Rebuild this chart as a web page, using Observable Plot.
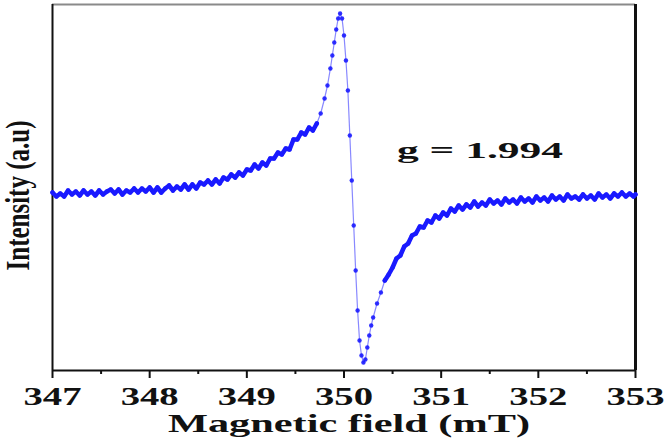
<!DOCTYPE html>
<html><head><meta charset="utf-8">
<script src="https://cdn.jsdelivr.net/npm/d3@7"></script>
<script src="https://cdn.jsdelivr.net/npm/@observablehq/plot@0.6"></script>
<style>body{margin:0;background:#fff}</style>
</head><body><div id="chart"></div>
<script>
const fieldLeft = [347.00,347.04,347.08,347.12,347.16,347.20,347.24,347.28,347.32,347.36,347.40,347.44,347.48,347.52,347.56,347.60,347.64,347.68,347.72,347.76,347.80,347.84,347.88,347.92,347.96,348.00,348.04,348.08,348.12,348.16,348.20,348.24,348.28,348.32,348.36,348.40,348.44,348.48,348.52,348.56,348.60,348.64,348.68,348.72,348.76,348.80,348.84,348.88,348.92,348.96,349.00,349.04,349.08,349.12,349.16,349.20,349.24,349.28,349.32,349.36,349.40,349.44,349.48,349.52,349.56,349.60,349.64,349.68,349.72];
const intensityLeft = [3,-1,2,-1,5,1,4,0,5,1,4,0,5,1,4,6,2,6,1,5,3,7,3,7,4,8,3,8,3,7,10,5,9,6,11,6,11,7,13,11,15,11,16,12,18,16,21,18,23,20,26,25,31,27,33,30,37,37,43,41,47,46,56,56,63,61,68,65,72];
const fieldPeak = [349.76,349.80,349.83,349.86,349.88,349.90,349.92,349.94,349.96,349.98,350.00,350.02,350.04,350.06,350.08,350.10,350.12,350.14,350.16,350.18,350.20,350.22,350.24,350.26,350.28,350.30,350.34,350.38];
const intensityPeak = [82,97,110,127,140,153,166,177,182,177,160,135,105,60,15,-30,-75,-115,-145,-160,-167,-164,-152,-140,-130,-122,-108,-97];
const fieldRight = [350.42,350.46,350.50,350.54,350.58,350.62,350.66,350.70,350.74,350.78,350.82,350.86,350.90,350.94,350.98,351.02,351.06,351.10,351.14,351.18,351.22,351.26,351.30,351.34,351.38,351.42,351.46,351.50,351.54,351.58,351.62,351.66,351.70,351.74,351.78,351.82,351.86,351.90,351.94,351.98,352.02,352.06,352.10,352.14,352.18,352.22,352.26,352.30,352.34,352.38,352.42,352.46,352.50,352.54,352.58,352.62,352.66,352.70,352.74,352.78,352.82,352.86,352.90,352.94,352.98,353.00];
const intensityRight = [-85,-79,-72,-63,-60,-51,-48,-40,-38,-31,-32,-25,-27,-20,-23,-17,-20,-13,-16,-10,-14,-9,-12,-6,-11,-7,-10,-4,-8,-5,-9,-3,-7,-4,-8,-2,-6,-3,-7,-1,-5,-2,-6,0,-4,-1,-5,1,-3,-1,-4,1,-3,0,-4,2,-2,1,-3,2,-1,3,-1,2,-1,1];

const xTicks = [347,348,349,350,351,352,353];
const xMinorTicks = [347.5,348.5,349.5,350.5,351.5,352.5];
const xDomain = [347,353];
const yDomain = [-175,191];
const annotationText = ["g = 1.994"];
const annotationX = [351.40];
const annotationY = [45];
const xLabel = "Magnetic field (mT)";
const yLabel = "Intensity (a.u)";

const toRows = (fs, vs, seg) => fs.map((f, i) => ({field: f, intensity: vs[i], seg}));
const left = toRows(fieldLeft, intensityLeft, "left");
const peak = toRows(fieldPeak, intensityPeak, "peak");
const right = toRows(fieldRight, intensityRight, "right");
const all = [...left, ...peak, ...right];
const noisy = [...left, ...right];
const notes = annotationText.map((t, i) => ({text: t, x: annotationX[i], y: annotationY[i]}));

const plot = Plot.plot({
  width: 665, height: 439,
  marginLeft: 52, marginRight: 30, marginTop: 4, marginBottom: 69,
  style: {fontFamily: "'Liberation Serif', 'Times New Roman', serif", color: "#111", background: "#fff"},
  x: {domain: xDomain},
  y: {domain: yDomain, axis: null},
  marks: [
    Plot.axisX(xMinorTicks, {tickSize: 4, tickFormat: () => "", strokeWidth: 2, label: null}),
    Plot.axisX(xTicks, {tickSize: 8, tickPadding: 8, fontSize: 26, fontWeight: "bold", tickFormat: d => String(d), strokeWidth: 2, label: null}),
    Plot.ruleY([yDomain[1]], {stroke: "#8a8a8a", strokeWidth: 2}),
    Plot.ruleY([yDomain[0]], {stroke: "#111", strokeWidth: 2}),
    Plot.ruleX([xDomain[0]], {stroke: "#111", strokeWidth: 2}),
    Plot.ruleX([xDomain[1]], {stroke: "#111", strokeWidth: 3}),
    Plot.line(all, {x: "field", y: "intensity", stroke: "#6a6aff", strokeWidth: 1.2, strokeOpacity: 0.8}),
    Plot.line(noisy, {x: "field", y: "intensity", z: "seg", stroke: "#1a1aff", strokeWidth: 4.5, strokeLinejoin: "round", strokeLinecap: "round"}),
    Plot.dot(all, {x: "field", y: "intensity", r: 2.2, fill: "#1a1aff", stroke: "none", fillOpacity: 0.9}),
    Plot.text(notes, {x: "x", y: "y", text: "text", fontSize: 24, fontWeight: "bold", fill: "#111", lineAnchor: "middle"}),
    Plot.text([xLabel], {frameAnchor: "bottom", dy: 53, dx: 5, fontSize: 26, fontWeight: "bold", fill: "#111", lineAnchor: "middle"}),
    Plot.text([yLabel], {frameAnchor: "left", rotate: -90, dx: -34.5, dy: 83, textAnchor: "start", fontSize: 33, fontWeight: "bold", fill: "#111", lineAnchor: "middle"})
  ]
});
document.getElementById("chart").appendChild(plot);

const widths = new Map([[xLabel, 362], [yLabel, 150], [annotationText[0], 166]]);
d3.select(plot).selectAll("text").each(function() {
  const t = this.textContent;
  let w = widths.get(t);
  if (w == null && xTicks.map(String).includes(t)) w = 58;
  if (w != null) {
    this.setAttribute("textLength", w);
    this.setAttribute("lengthAdjust", "spacingAndGlyphs");
  }
});
</script>
</body></html>
